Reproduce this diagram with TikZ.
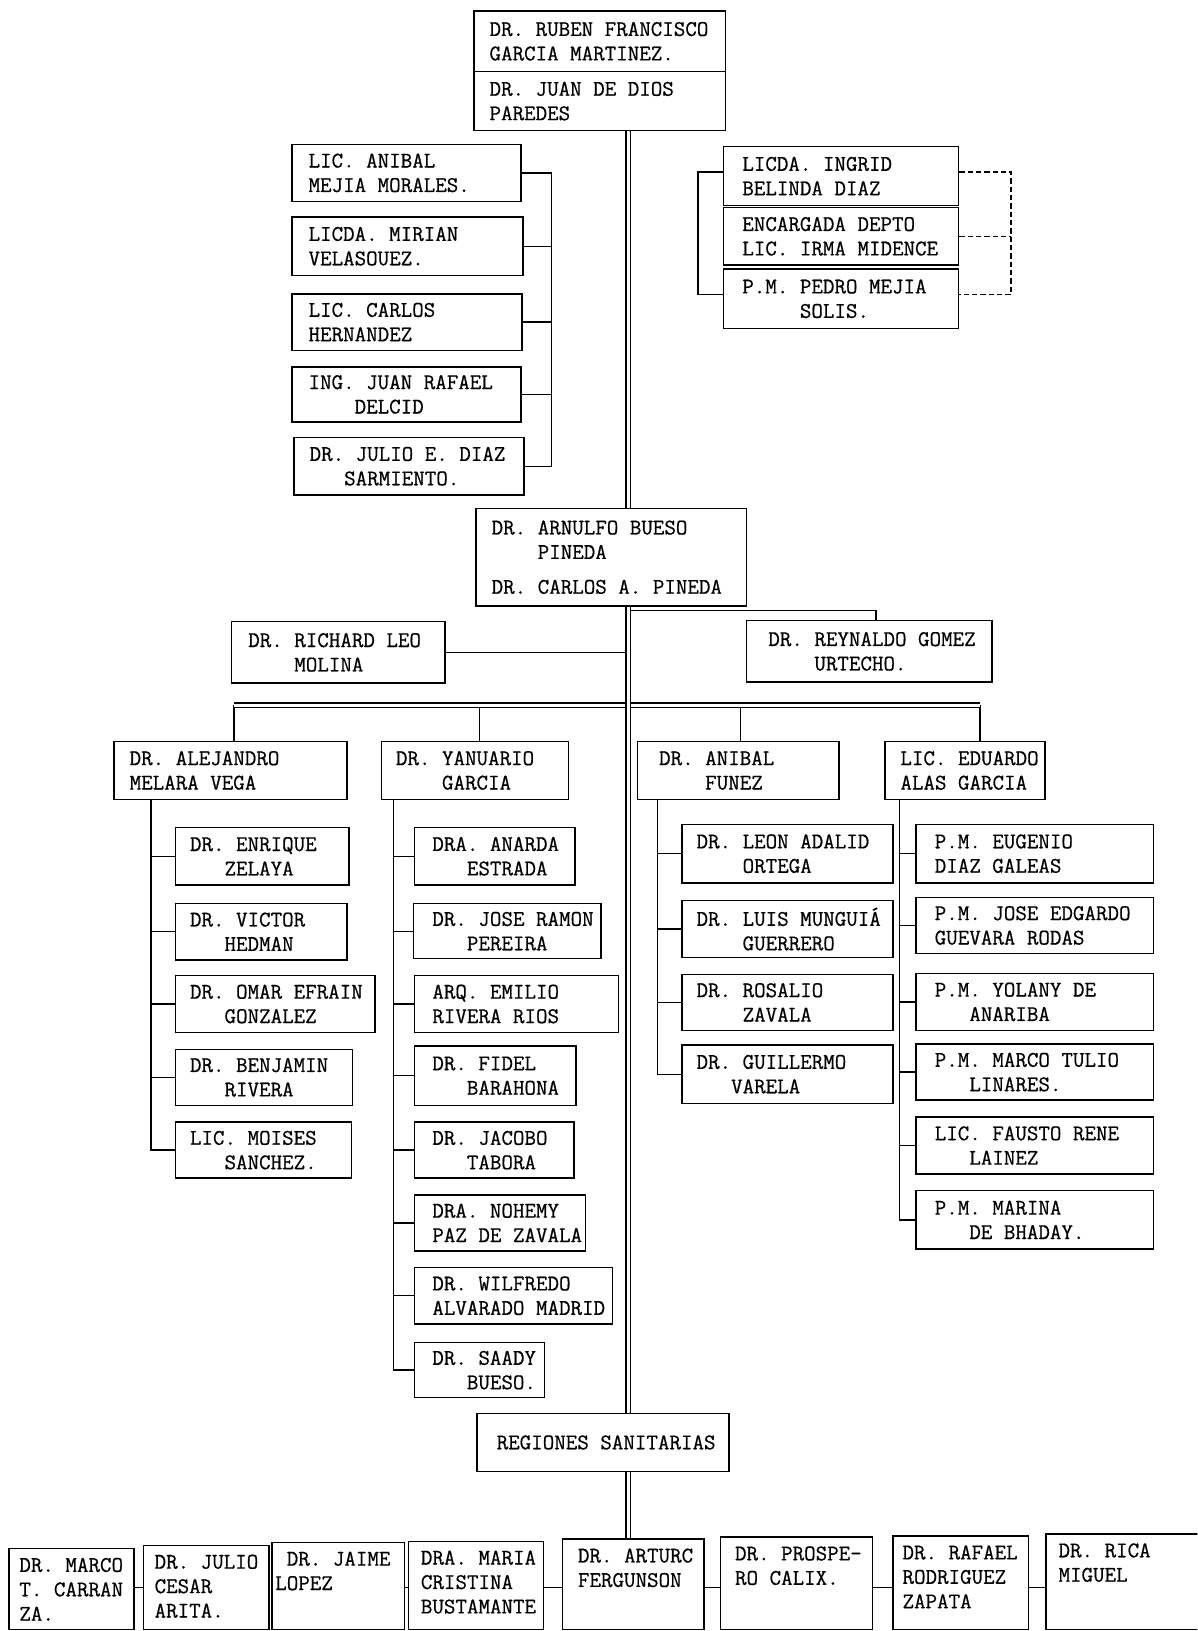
\documentclass[tikz,border=0pt]{standalone}
\usepackage{fontspec}
\setmonofont{Latin Modern Mono}[FakeBold=0.6]
\newcommand\ind[1]{\hspace*{#1\fontdimen2\font}}
% box with text vertically centred, left aligned at offset #1
\newcommand\bx[7][14]{%
  \node[bxs, anchor=north west, minimum width={(#5)-(#3)}, minimum height={(#6)-(#4)}] (#2) at (#3,#4) {};
  \node[txs, anchor=west] (#2t) at ([xshift=#1pt]#2.west) {#7};}
% box with text anchored at the top (bottom row)
\newcommand\bxb[7][10]{%
  \node[bxs, anchor=north west, minimum width={(#5)-(#3)}, minimum height={(#6)-(#4)}] (#2) at (#3,#4) {};
  \node[txs, anchor=north west] (#2t) at ([shift={(#1pt,-9pt)}]#2.north west) {#7};}
\begin{document}
\begin{tikzpicture}[x=1pt,y=-1pt, line width=1.3pt,
  bxs/.style={draw, rectangle, inner sep=0pt, line width=1.4pt},
  txs/.style={font=\ttfamily\fontsize{21.5}{23.5}\selectfont, align=left, inner sep=0pt},
  trunkline/.style={double, double distance=3pt, line width=1.2pt},
  dsh/.style={dash pattern=on 5pt off 3pt}]
\useasboundingbox (0,0) rectangle (1151,1568);
\clip (0,0) rectangle (1151,1568);

% ---------- top ----------
\bx[15]{t1}{455}{10}{697}{68}{DR. RUBEN FRANCISCO\\GARCIA MARTINEZ.}
\bx[15]{t2}{455}{68}{697}{125}{DR. JUAN DE DIOS\\PAREDES}

% ---------- left staff ----------
\bx[16]{s1}{280}{138}{500}{193}{LIC. ANIBAL\\MEJIA MORALES.}
\bx[16]{s2}{280}{208}{502}{264}{LICDA. MIRIAN\\VELASOUEZ.}
\bx[16]{s3}{280}{282}{501}{336}{LIC. CARLOS\\HERNANDEZ}
\bx[16]{s4}{280}{352}{500}{405}{ING. JUAN RAFAEL\\\ind4DELCID}
\bx[15]{s5}{282}{420}{503}{475}{DR. JULIO E. DIAZ\\\ind3SARMIENTO.}
\coordinate (sl) at (530,0);
\draw (s1.east) -- (s1.east -| sl) -- (s5.east -| sl) -- (s5.east);
\foreach \b in {s2,s3,s4} \draw (\b.east) -- (\b.east -| sl);

% ---------- right staff ----------
\bx[18]{r1}{695}{140}{921}{197}{LICDA. INGRID\\BELINDA DIAZ}
\bx[18]{r2}{695}{199}{921}{254}{ENCARGADA DEPTO\\LIC. IRMA MIDENCE}
\bx[18]{r3}{695}{258}{921}{315}{P.M. PEDRO MEJIA\\\ind5SOLIS.}
\coordinate (rl) at (671,0);
\coordinate (rr) at (972,0);
\draw ([yshift=4pt]r1.west) -- ([yshift=4pt]r1.west -| rl) -- ([yshift=4pt]r3.west -| rl) -- ([yshift=4pt]r3.west);
\draw[dsh] ([yshift=4pt]r1.east) -- ([yshift=4pt]r1.east -| rr) -- ([yshift=4pt]r3.east -| rr) -- ([yshift=4pt]r3.east);
\draw[dsh] (r2.east) -- (r2.east -| rr);

% ---------- second level ----------
\bx[15]{m}{457}{488}{717}{582}{DR. ARNULFO BUESO\\\ind4PINEDA\\[10pt]DR. CARLOS A. PINEDA}
\bx[16]{ri}{222}{597}{427}{656}{DR. RICHARD LEO\\\ind4MOLINA}
\bx[21]{re}{717}{596}{953}{655}{DR. REYNALDO GOMEZ\\\ind4URTECHO.}

\coordinate (tk) at (604,0);
\coordinate (rj) at (842,587);
\draw (ri.east) -- (ri.east -| tk);
\draw (rj -| tk) -- (rj) -- (rj |- re.north);

% ---------- directors ----------
\bx[15]{a}{109}{712}{333}{768}{DR. ALEJANDRO\\MELARA VEGA}
\bx[14]{y}{366}{712}{546}{768}{DR. YANUARIO\\\ind4GARCIA}
\bx[21]{n}{612}{712}{806}{768}{DR. ANIBAL\\\ind4FUNEZ}
\bx[15]{e}{850}{712}{1004}{768}{LIC. EDUARDO\\ALAS GARCIA}

\coordinate (bus) at (0,678);
\draw (a.north -| 225,0) -- (bus -| 225,0);
\draw (y.north -| 461,0) -- (bus -| 461,0);
\draw (n.north -| 712,0) -- (bus -| 712,0);
\draw (e.north -| 942,0) -- (bus -| 942,0);
\draw[trunkline] (bus -| 225,0) -- (bus -| 942,0);

% ---------- column A ----------
\bx[14]{a1}{168}{795}{335}{850}{DR. ENRIQUE\\\ind3ZELAYA}
\bx[14]{a2}{168}{868}{333}{922}{DR. VICTOR\\\ind3HEDMAN}
\bx[14]{a3}{168}{937}{360}{992}{DR. OMAR EFRAIN\\\ind3GONZALEZ}
\bx[14]{a4}{168}{1008}{338}{1062}{DR. BENJAMIN\\\ind3RIVERA}
\bx[14]{a5}{168}{1078}{337}{1132}{LIC. MOISES\\\ind3SANCHEZ.}
\coordinate (ca) at (145,0);
\draw (a.south -| ca) |- (a5.west);
\foreach \b in {a1,a2,a3,a4} \draw (\b.west) -- (\b.west -| ca);

% ---------- column Y ----------
\bx[17]{y1}{398}{795}{552}{850}{DRA. ANARDA\\\ind3ESTRADA}
\bx[18]{y2}{397}{868}{577}{921}{DR. JOSE RAMON\\\ind3PEREIRA}
\bx[17]{y3}{398}{937}{594}{992}{ARQ. EMILIO\\RIVERA RIOS}
\bx[17]{y4}{398}{1005}{553}{1062}{DR. FIDEL\\\ind3BARAHONA}
\bx[17]{y5}{398}{1078}{551}{1132}{DR. JACOBO\\\ind3TABORA}
\bx[17]{y6}{398}{1148}{562}{1202}{DRA. NOHEMY\\PAZ DE ZAVALA}
\bx[17]{y7}{398}{1218}{588}{1272}{DR. WILFREDO\\ALVARADO MADRID}
\bx[17]{y8}{398}{1290}{523}{1343}{DR. SAADY\\\ind3BUESO.}
\coordinate (cy) at (378,0);
\draw (y.south -| cy) |- (y8.west);
\foreach \b in {y1,y2,y3,y4,y5,y6,y7} \draw (\b.west) -- (\b.west -| cy);

% ---------- column N ----------
\bx[14]{n1}{655}{792}{858}{848}{DR. LEON ADALID\\\ind4ORTEGA}
\bx[14]{n2}{655}{865}{858}{920}{DR. LUIS MUNGUIÁ\\\ind4GUERRERO}
\bx[14]{n3}{655}{936}{858}{990}{DR. ROSALIO\\\ind4ZAVALA}
\bx[14]{n4}{655}{1004}{858}{1060}{DR. GUILLERMO\\\ind3VARELA}
\coordinate (cn) at (632,0);
\draw (n.south -| cn) |- (n4.west);
\foreach \b in {n1,n2,n3} \draw (\b.west) -- (\b.west -| cn);

% ---------- column E ----------
\bx[18]{e1}{880}{792}{1108}{848}{P.M. EUGENIO\\DIAZ GALEAS}
\bx[18]{e2}{880}{862}{1108}{916}{P.M. JOSE EDGARDO\\GUEVARA RODAS}
\bx[18]{e3}{880}{935}{1108}{990}{P.M. YOLANY DE\\\ind3ANARIBA}
\bx[18]{e4}{880}{1003}{1108}{1057}{P.M. MARCO TULIO\\\ind3LINARES.}
\bx[18]{e5}{880}{1073}{1108}{1128}{LIC. FAUSTO RENE\\\ind3LAINEZ}
\bx[18]{e6}{880}{1144}{1108}{1200}{P.M. MARINA\\\ind3DE BHADAY.}
\coordinate (ce) at (865,0);
\draw (e.south -| ce) |- (e6.west);
\foreach \b in {e1,e2,e3,e4,e5} \draw (\b.west) -- (\b.west -| ce);

% ---------- regions ----------
\node[bxs, anchor=north west, minimum width=242, minimum height=56] (reg) at (458,1358) {};
\node[txs] (regt) at ([xshift=3pt]reg.center) {REGIONES SANITARIAS};

% ---------- bottom row ----------
\bxb[10]{b1}{8}{1488}{128}{1566}{DR. MARCO\\T. CARRAN\\ZA.}
\bxb[11]{b2}{137}{1485}{258}{1566}{DR. JULIO\\CESAR\\ARITA.}
\bxb[3]{b3}{261}{1482}{388}{1566}{\ind1DR. JAIME\\LOPEZ}
\bxb[12]{b4}{392}{1481}{522}{1566}{DRA. MARIA\\CRISTINA\\BUSTAMANTE}
\bxb[15]{b5}{540}{1479}{676}{1566}{DR. ARTURC\\FERGUNSON}
\bxb[14]{b6}{692}{1477}{838}{1566}{DR. PROSPE-\\RO CALIX.}
\bxb[9]{b7}{858}{1476}{988}{1566}{DR. RAFAEL\\RODRIGUEZ\\ZAPATA}
\bxb[12]{b8}{1005}{1474}{1158}{1566}{DR. RICA\\MIGUEL}
\coordinate (by) at (0,1526);
\draw (b1.east |- by) -- (b2.west |- by);
\draw (b3.east |- by) -- (b4.west |- by);
\draw (b4.east |- by) -- (b5.west |- by);
\draw (b5.east |- by) -- (b6.west |- by);
\draw (b6.east |- by) -- (b7.west |- by);
\draw (b7.east |- by) -- (b8.west |- by);

% ---------- trunk ----------
\draw[trunkline] (t2.south -| tk) -- (m.north -| tk);
\draw[trunkline] (m.south -| tk) -- (reg.north -| tk);
\draw[trunkline] (reg.south -| tk) -- (b5.north -| tk);
\end{tikzpicture}
\end{document}
